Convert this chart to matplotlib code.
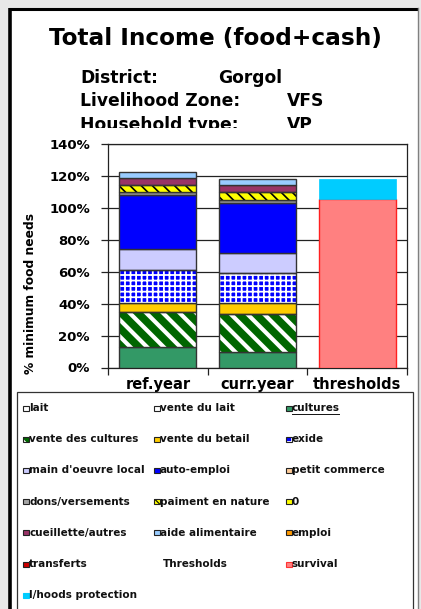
import matplotlib
matplotlib.use("Agg")
import matplotlib.pyplot as plt
from matplotlib.patches import Rectangle
from matplotlib.ticker import FuncFormatter, FixedLocator
import numpy as np

# ---------------- data ----------------
categories = ["ref.year", "curr.year", "thresholds"]
income_sources = ["cultures", "vente des cultures", "vente du betail", "exode",
                  "main d'oeuvre local", "auto-emploi", "dons/versements",
                  "paiment en nature", "cueillette/autres", "aide alimentaire"]
ref_year = [13.0, 21.5, 6.1, 20.3, 13.2, 33.7, 2.3, 4.0, 4.6, 3.8]
curr_year = [10.0, 23.2, 6.9, 18.8, 13.0, 30.9, 2.1, 4.8, 4.4, 3.8]
threshold_names = ["survival", "l/hoods protection"]
threshold_values = [105.4, 12.8]
yticks = [0, 20, 40, 60, 80, 100, 120, 140]

legend_labels = ["lait", "vente du lait", "cultures",
                 "vente des cultures", "vente du betail", "exide",
                 "main d'oeuvre local", "auto-emploi", "petit commerce",
                 "dons/versements", "paiment en nature", "0",
                 "cueillette/autres", "aide alimentaire", "emploi",
                 "transferts", "Thresholds", "survival",
                 "l/hoods protection"]

title = "Total Income (food+cash)"
info_rows = [("District:", "Gorgol"), ("Livelihood Zone:", "VFS"), ("Household type:", "VP")]

# ---------------- styles ----------------
FONT = "DejaVu Sans"
src_style = {
    "cultures": dict(fc="#339966"),
    "vente des cultures": dict(fc="#006600", hatch="\\\\", hc="white", hlw=3.0),
    "vente du betail": dict(fc="#FFCC00"),
    "exode": dict(fc="#0000FF", hatch="+++", hc="white", hlw=1.3),
    "main d'oeuvre local": dict(fc="#CCCCFF"),
    "auto-emploi": dict(fc="#0000FF"),
    "dons/versements": dict(fc="#969696"),
    "paiment en nature": dict(fc="#FFFF00", hatch="\\\\\\", hc="black", hlw=1.2),
    "cueillette/autres": dict(fc="#993366"),
    "aide alimentaire": dict(fc="#99CCFF"),
}
leg_style = {
    "lait": dict(fc="white"), "vente du lait": dict(fc="white"),
    "cultures": dict(fc="#339966"),
    "vente des cultures": dict(fc="#006600", hatch="\\\\", hc="white", hlw=1.0),
    "vente du betail": dict(fc="#FFCC00"),
    "exide": dict(fc="#0000FF", hatch="+++", hc="white", hlw=0.8),
    "main d'oeuvre local": dict(fc="#CCCCFF"), "auto-emploi": dict(fc="#0000FF"),
    "petit commerce": dict(fc="#FFCC99"), "dons/versements": dict(fc="#A6A6A6"),
    "paiment en nature": dict(fc="#FFFF00", hatch="\\\\\\", hc="black", hlw=0.8),
    "0": dict(fc="#FFFF00"), "cueillette/autres": dict(fc="#993366"),
    "aide alimentaire": dict(fc="#99CCFF"), "emploi": dict(fc="#FF9900"),
    "transferts": dict(fc="#CC0000"), "Thresholds": None,
    "survival": dict(fc="#FF8080", ec="#FF3333"),
    "l/hoods protection": dict(fc="#00CCFF", ec="#00CCFF"),
}

W, H = 421, 609
fig = plt.figure(figsize=(W / 100, H / 100), dpi=100, facecolor="#E8E8E8")

# background / frame axes in pixel coordinates
bg = fig.add_axes([0, 0, 1, 1], zorder=-1)
bg.set_xlim(0, W)
bg.set_ylim(H, 0)
bg.axis("off")
bg.add_patch(Rectangle((9, 8), 409, 620, facecolor="white", edgecolor="none"))
bg.plot([9, 418], [8.5, 8.5], color="black", lw=2.2, solid_capstyle="butt")
bg.plot([9.5, 9.5], [8, 620], color="black", lw=2.6, solid_capstyle="butt")
bg.plot([418, 418], [8, 620], color="#808080", lw=1.0)

# title & info
bg.text(215, 45, title, ha="center", va="baseline", fontsize=16.7,
        fontweight="bold", family=FONT)
for i, (k, v) in enumerate(info_rows):
    yb = 83 + i * 23.5
    bg.text(80, yb, k, ha="left", va="baseline", fontsize=12.3,
            fontweight="bold", family=FONT)
    bg.text(218 if i == 0 else 287, yb, v, ha="left", va="baseline",
            fontsize=12.3, fontweight="bold", family=FONT)
# mask that cuts the bottom of the last info row (as in the original)
bg.add_patch(Rectangle((40, 128), 330, 15, facecolor="white", edgecolor="none", zorder=5))

# legend box
bg.add_patch(Rectangle((17, 392), 396, 240, facecolor="white",
                       edgecolor="#333333", lw=0.9))
col_x = [23, 154, 286]
row_y0, row_dy = 408, 31.2
for idx, lab in enumerate(legend_labels):
    r, c = divmod(idx, 3)
    x = col_x[c]
    y = row_y0 + r * row_dy
    st = leg_style[lab]
    if st is not None:
        ec = st.get("ec", "#222222")
        if st.get("hatch"):
            p = Rectangle((x, y - 2.5), 5.5, 5, facecolor=st["fc"],
                          edgecolor=st["hc"], lw=0, hatch=st["hatch"])
            try:
                p.set_hatch_linewidth(st["hlw"])
            except Exception:
                pass
            bg.add_patch(p)
            bg.add_patch(Rectangle((x, y - 2.5), 5.5, 5, fill=False,
                                   edgecolor=ec, lw=0.8))
        else:
            bg.add_patch(Rectangle((x, y - 2.5), 5.5, 5, facecolor=st["fc"],
                                   edgecolor=ec, lw=0.8))
        tx = x + 6
    else:
        tx = x + 9
    t = bg.text(tx, y, lab, ha="left", va="center", fontsize=7.5,
                fontweight="bold", family=FONT, color="#111111")
    if lab == "cultures":
        bg.plot([tx, tx + 47], [y + 5.5, y + 5.5], color="#111111", lw=0.7)

# y label
bg.text(31, 294, "% minimum food needs", rotation=90, ha="center", va="center",
        fontsize=8.8, fontweight="bold", family=FONT)

# ---------------- chart axes ----------------
left, right, top, bottom = 108, 407, 144, 367.5
ax = fig.add_axes([left / W, (H - bottom) / H, (right - left) / W, (bottom - top) / H])
ax.set_facecolor("white")
xs = np.arange(len(categories))
bw = 0.77


def seg(x, b, h, st, ec="#333333", lw=1.0):
    if st.get("hatch"):
        p = ax.bar(x, h, bw, bottom=b, color=st["fc"], edgecolor=st["hc"],
                   lw=0, hatch=st["hatch"], zorder=3)
        for pp in p:
            try:
                pp.set_hatch_linewidth(st["hlw"])
            except Exception:
                pass
        ax.bar(x, h, bw, bottom=b, fill=False, edgecolor=ec, lw=lw, zorder=4)
    else:
        ax.bar(x, h, bw, bottom=b, color=st["fc"], edgecolor=ec, lw=lw, zorder=3)


for xi, vals in zip(xs[:2], [ref_year, curr_year]):
    b = 0.0
    for name, v in zip(income_sources, vals):
        seg(xi, b, v, src_style[name])
        b += v

ax.bar(xs[2], threshold_values[0], bw, bottom=0, color="#FF8080",
       edgecolor="#FF2020", lw=1.0, zorder=3)
ax.bar(xs[2], threshold_values[1], bw, bottom=threshold_values[0],
       color="#00CCFF", edgecolor="#00CCFF", lw=0.5, zorder=3)

ax.set_xlim(-0.5, 2.5)
ax.set_ylim(0, 140)
ax.yaxis.set_major_locator(FixedLocator(yticks))
ax.yaxis.set_major_formatter(FuncFormatter(lambda v, p: f"{v:.0f}%"))
ax.grid(axis="y", color="#222222", lw=0.9, zorder=0)
ax.set_axisbelow(True)
ax.set_xticks(xs)
ax.set_xticklabels(categories)
ax.xaxis.set_minor_locator(FixedLocator([-0.5, 0.5, 1.5, 2.5]))
ax.tick_params(axis="x", which="major", length=0, pad=7)
ax.tick_params(axis="x", which="minor", length=5, width=0.9, direction="out", color="#222222")
ax.tick_params(axis="y", length=5, width=0.9, direction="out", pad=8, color="#222222")
for lab in ax.get_xticklabels():
    lab.set_fontweight("bold")
    lab.set_family(FONT)
    lab.set_fontsize(10.5)
for lab in ax.get_yticklabels():
    lab.set_fontweight("bold")
    lab.set_family(FONT)
    lab.set_fontsize(9.5)
for sp in ax.spines.values():
    sp.set_color("#222222")
    sp.set_linewidth(0.9)

fig.savefig("out.png", dpi=100, facecolor=fig.get_facecolor())
